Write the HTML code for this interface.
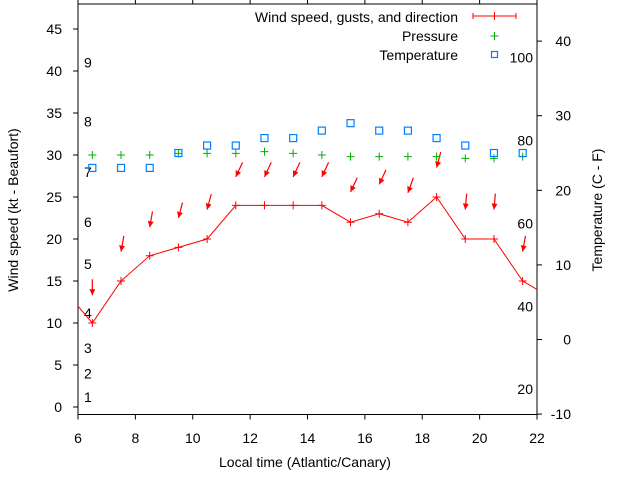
<!DOCTYPE html>
<html><head><meta charset="utf-8"><style>
body{margin:0;background:#fff}
svg{display:block;font-family:"Liberation Sans",sans-serif}
</style></head><body>
<svg id="chart" width="640" height="480" viewBox="0 0 640 480">
<g id="axes"></g>
<g id="marks"></g>
</svg>
<script>
const hours = [6.5,7.5,8.5,9.5,10.5,11.5,12.5,13.5,14.5,15.5,16.5,17.5,18.5,19.5,20.5,21.5];
const windSpeed = [10,15,18,19,20,24,24,24,24,22,23,22,25,20,20,15];
const windStart = 12, windEnd = 14;
const gusts = [13.3,18.5,21.4,22.5,23.5,27.4,27.4,27.4,27.4,25.6,26.5,25.5,28.5,23.5,23.5,18.5];
const windDir = [0,10,10,15,15,25,25,25,25,25,25,20,15,5,5,10];
const pressure = [30,30,30,30.2,30.2,30.2,30.4,30.2,30,29.8,29.8,29.8,29.8,29.6,29.6,29.8];
const temperature = [23,23,23,25,26,26,27,27,28,29,28,28,27,26,25,25];
const xTicks = [6,8,10,12,14,16,18,20,22];
const yTicks = [0,5,10,15,20,25,30,35,40,45];
const y2Ticks = [-10,0,10,20,30,40];
const beaufortLabels = ["1","2","3","4","5","6","7","8","9"];
const beaufortKt = [1.2,4,7,11.2,17,22,28,34,41];
const fahrenheitLabels = ["20","40","60","80","100"];

const L=78,R=537,T=4,B=414.5;
const X=v=>L+(v-6)*(R-L)/16;
const Y=v=>407-v*8.4;
const Y2=v=>339.5-v*7.46;
const NS="http://www.w3.org/2000/svg";
const axes=document.getElementById('axes'), marks=document.getElementById('marks');
function mk(p,tag,at,txt){const e=document.createElementNS(NS,tag);for(const k in at)e.setAttribute(k,at[k]);if(txt!==undefined)e.textContent=txt;p.appendChild(e);return e;}

let e;
e=mk(axes,'rect',{x:L,y:T,width:R-L,height:B-T,fill:'none',stroke:'#000','stroke-width':1});


xTicks.forEach(v=>{
  e=mk(axes,'line',{x1:X(v),x2:X(v),y1:B,y2:B+5,stroke:'#000'});
  
  
  e=mk(axes,'line',{x1:X(v),x2:X(v),y1:T,y2:T-5,stroke:'#000'});
  
  
  e=mk(axes,'text',{x:X(v),y:443,'font-size':14,'text-anchor':'middle',fill:'#000'},String(v));
  
  
});
yTicks.forEach(v=>{
  e=mk(axes,'line',{x1:L-5,x2:L,y1:Y(v),y2:Y(v),stroke:'#000'});
  
  
  e=mk(axes,'text',{x:62,y:Y(v)+5,'font-size':14,'text-anchor':'end',fill:'#000'},String(v));
  
  
});
y2Ticks.forEach(v=>{
  e=mk(axes,'line',{x1:R,x2:R+5,y1:Y2(v),y2:Y2(v),stroke:'#000'});
  
  
  e=mk(axes,'text',{x:571,y:Y2(v)+5,'font-size':14,'text-anchor':'end',fill:'#000'},String(v));
  
  
});
beaufortLabels.forEach((s,i)=>{
  e=mk(axes,'text',{x:84,y:Y(beaufortKt[i])+5,'font-size':14,fill:'#000'},s);
  
  
});
fahrenheitLabels.forEach(s=>{
  const c=(Number(s)-32)*5/9;
  e=mk(axes,'text',{x:533,y:Y2(c)+5,'font-size':14,'text-anchor':'end',fill:'#000'},s);
  
  
});
e=mk(axes,'text',{x:305,y:467,'font-size':14,'text-anchor':'middle',fill:'#000'},'Local time (Atlantic/Canary)');


e=mk(axes,'text',{x:0,y:0,'font-size':14,'text-anchor':'middle',fill:'#000',transform:'translate(18,210) rotate(-90)'},'Wind speed (kt - Beaufort)');


e=mk(axes,'text',{x:0,y:0,'font-size':14,'text-anchor':'middle',fill:'#000',transform:'translate(602,210) rotate(-90)'},'Temperature (C - F)');



const pts=[[X(6),Y(windStart)]].concat(hours.map((h,i)=>[X(h),Y(windSpeed[i])])).concat([[X(22),Y(windEnd)]]);
e=mk(marks,'polyline',{points:pts.map(p=>p.join(',')).join(' '),fill:'none',stroke:'#f00','stroke-width':1});


function plus(x,y,c,name){
  e=mk(marks,'path',{d:`M${x-4},${y}h8M${x},${y-4}v8`,stroke:c,'stroke-width':1,fill:'none'});
  
  
}
hours.forEach((h,i)=>plus(X(h),Y(windSpeed[i]),'#f00','wind-point'));
hours.forEach((h,i)=>{
  const x=X(h),y=Y(gusts[i]),a=windDir[i]*Math.PI/180,len=16;
  const tx=x+Math.sin(a)*len,ty=y-Math.cos(a)*len;
  const g=mk(marks,'g',{});
  
  
  mk(g,'line',{x1:tx,y1:ty,x2:x,y2:y,stroke:'#f00','stroke-width':1.2});
  const ux=(x-tx)/len,uy=(y-ty)/len,px=-uy,py=ux;
  mk(g,'path',{d:`M${x},${y}L${x-ux*6+px*3},${y-uy*6+py*3}L${x-ux*6-px*3},${y-uy*6-py*3}Z`,fill:'#f00'});
});
hours.forEach((h,i)=>plus(X(h),Y(pressure[i]),'#00b000','pressure-point'));
hours.forEach((h,i)=>{
  e=mk(marks,'rect',{x:X(h)-3.5,y:Y2(temperature[i])-3.5,width:7,height:7,fill:'none',stroke:'#0080ff','stroke-width':1.2});
  
  
});
const lg=mk(axes,'g',{});


e=mk(lg,'text',{x:458,y:22,'font-size':14,'text-anchor':'end',fill:'#000'},'Wind speed, gusts, and direction');


mk(lg,'path',{d:'M473,16h43M473,13v6M516,13v6M494.5,12v8',stroke:'#f00',fill:'none'});
e=mk(lg,'text',{x:458,y:41,'font-size':14,'text-anchor':'end',fill:'#000'},'Pressure');


mk(lg,'path',{d:'M490.5,36h8M494.5,32v8',stroke:'#00b000',fill:'none'});
e=mk(lg,'text',{x:458,y:60,'font-size':14,'text-anchor':'end',fill:'#000'},'Temperature');


mk(lg,'rect',{x:491.5,y:51.5,width:6,height:6,fill:'none',stroke:'#0080ff','stroke-width':1.2});
</script>
</body></html>
